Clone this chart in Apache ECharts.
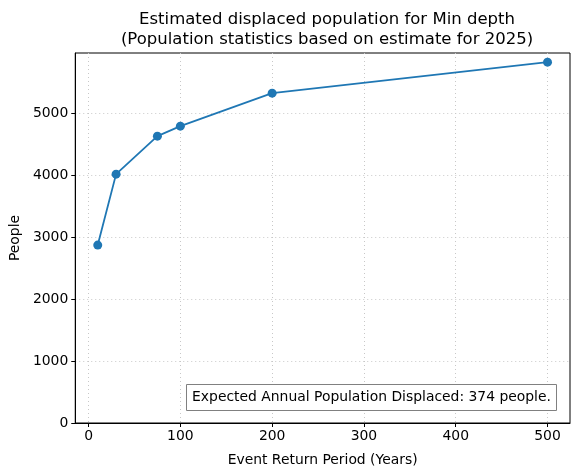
<!DOCTYPE html>
<html><head><meta charset="utf-8">
<script src="https://cdn.jsdelivr.net/npm/echarts@6/dist/echarts.min.js"></script>
<style>html,body{margin:0;padding:0;background:#fff}#c{width:580px;height:476px}</style>
</head><body><div id="c"></div>
<script>
const returnPeriods = [10, 30, 75, 100, 200, 500];
const displaced = [2871, 4016, 4629, 4790, 5323, 5823];
const xTicks = [0, 100, 200, 300, 400, 500];
const yTicks = [0, 1000, 2000, 3000, 4000, 5000];
const titleLines = ['Estimated displaced population for Min depth', '(Population statistics based on estimate for 2025)'];
const annotation = 'Expected Annual Population Displaced: 374 people.';

const FONT = 'DejaVu Sans';
const chart = echarts.init(document.getElementById('c'), null, {renderer: 'canvas'});
const gridLine = {show: true, lineStyle: {color: '#c8c8c8', type: [1, 3], width: 1}};
chart.setOption({
  animation: false,
  title: {
    text: titleLines.join('\n'), left: 322, top: 5, textAlign: 'center',
    textStyle: {fontFamily: FONT, fontSize: 16.5, fontWeight: 'normal', color: '#000', lineHeight: 20}
  },
  grid: {left: 74, right: 10, top: 53, bottom: 53, show: true, borderColor: '#000', borderWidth: 1, containLabel: false},
  xAxis: {
    type: 'value', min: -14.5, max: 524.5,
    name: 'Event Return Period (Years)', nameLocation: 'middle', nameGap: 30,
    nameTextStyle: {fontFamily: FONT, fontSize: 13.9, color: '#000'},
    axisLine: {show: true, onZero: false, lineStyle: {color: '#000'}},
    axisTick: {show: true, length: 4, customValues: xTicks, lineStyle: {color: '#000'}},
    axisLabel: {customValues: xTicks, fontFamily: FONT, fontSize: 13.9, color: '#000', margin: 6, formatter: v => String(v)},
    splitLine: gridLine
  },
  yAxis: {
    type: 'value', min: 0, max: 5971,
    name: 'People', nameLocation: 'middle', nameGap: 50, nameRotate: 90,
    nameTextStyle: {fontFamily: FONT, fontSize: 13.9, color: '#000'},
    axisLine: {show: true, onZero: false, lineStyle: {color: '#000'}},
    axisTick: {show: true, length: 4, customValues: yTicks, lineStyle: {color: '#000'}},
    axisLabel: {customValues: yTicks, fontFamily: FONT, fontSize: 13.9, color: '#000', margin: 7, formatter: v => String(v)},
    splitLine: gridLine
  },
  series: [{
    type: 'line', data: returnPeriods.map((x, i) => [x, displaced[i]]),
    symbol: 'circle', symbolSize: 9,
    lineStyle: {color: '#1f77b4', width: 1.8},
    itemStyle: {color: '#1f77b4'}
  }],
  graphic: [
    {type: 'rect', shape: {x: 186.5, y: 384.5, width: 370, height: 26}, style: {fill: '#fff', stroke: '#808080', lineWidth: 1}, z: 100},
    {type: 'text', x: 371.5, y: 397.5, style: {text: annotation, fontFamily: FONT, fontSize: 13.9, fill: '#000', align: 'center', verticalAlign: 'middle'}, z: 101}
  ]
});
</script></body></html>
